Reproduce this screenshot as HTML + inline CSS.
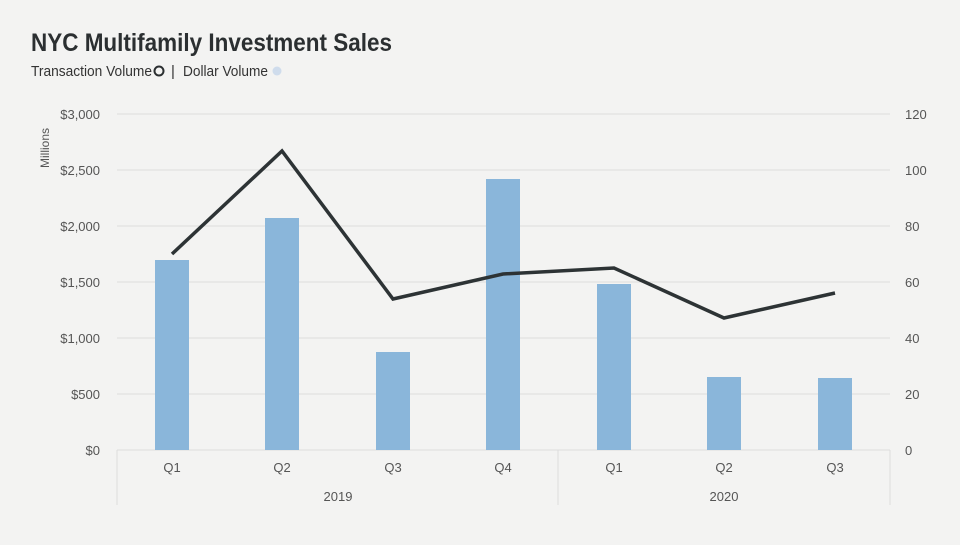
<!DOCTYPE html>
<html><head><meta charset="utf-8"><style>
body{margin:0;width:960px;height:540px;background:#f3f3f2;font-family:"Liberation Sans",sans-serif;overflow:hidden}
</style></head><body>
<svg width="960" height="540" xmlns="http://www.w3.org/2000/svg" font-family="Liberation Sans, sans-serif">
<rect width="960" height="540" fill="#f3f3f2"/>
<text x="31" y="51" font-size="25" font-weight="bold" fill="#2b2f31" textLength="361" lengthAdjust="spacingAndGlyphs">NYC Multifamily Investment Sales</text>
<text x="31" y="76" font-size="15" fill="#333" textLength="121" lengthAdjust="spacingAndGlyphs">Transaction Volume</text>
<circle cx="159" cy="71" r="4.5" fill="none" stroke="#2b2f31" stroke-width="2"/>
<text x="171" y="76" font-size="15" fill="#333">|</text>
<text x="183" y="76" font-size="15" fill="#333" textLength="85" lengthAdjust="spacingAndGlyphs">Dollar Volume</text>
<circle cx="277" cy="71" r="4.5" fill="#cfdcec"/>
<g stroke="#dcdcdc" stroke-width="1">
<line x1="117" x2="890" y1="114" y2="114"/><line x1="117" x2="890" y1="170" y2="170"/>
<line x1="117" x2="890" y1="226" y2="226"/><line x1="117" x2="890" y1="282" y2="282"/>
<line x1="117" x2="890" y1="338" y2="338"/><line x1="117" x2="890" y1="394" y2="394"/>
<line x1="117" x2="890" y1="450" y2="450"/>
<line x1="117" x2="117" y1="450" y2="505"/><line x1="558" x2="558" y1="450" y2="505"/><line x1="890" x2="890" y1="450" y2="505"/>
</g>
<g font-size="13" fill="#555" text-anchor="end">
<text x="100" y="119">$3,000</text><text x="100" y="175">$2,500</text><text x="100" y="231">$2,000</text>
<text x="100" y="287">$1,500</text><text x="100" y="343">$1,000</text><text x="100" y="399">$500</text><text x="100" y="455">$0</text>
</g>
<g font-size="13" fill="#555">
<text x="905" y="119">120</text><text x="905" y="175">100</text><text x="905" y="231">80</text>
<text x="905" y="287">60</text><text x="905" y="343">40</text><text x="905" y="399">20</text><text x="905" y="455">0</text>
</g>
<text transform="translate(49,148) rotate(-90)" font-size="12" fill="#555" text-anchor="middle">Millions</text>
<g fill="#8ab6da">
<rect x="155" y="260" width="34" height="190"/>
<rect x="265" y="218" width="34" height="232"/>
<rect x="376" y="352" width="34" height="98"/>
<rect x="486" y="179" width="34" height="271"/>
<rect x="597" y="284" width="34" height="166"/>
<rect x="707" y="377" width="34" height="73"/>
<rect x="818" y="378" width="34" height="72"/>
</g>
<polyline points="172,254 282,151 393,299 503,274 614,268 724,318 835,293" fill="none" stroke="#2d3335" stroke-width="3.5" stroke-linejoin="miter"/>
<g font-size="13" fill="#555" text-anchor="middle">
<text x="172" y="472">Q1</text><text x="282" y="472">Q2</text><text x="393" y="472">Q3</text><text x="503" y="472">Q4</text>
<text x="614" y="472">Q1</text><text x="724" y="472">Q2</text><text x="835" y="472">Q3</text>
<text x="338" y="501">2019</text><text x="724" y="501">2020</text>
</g>
</svg>
</body></html>
